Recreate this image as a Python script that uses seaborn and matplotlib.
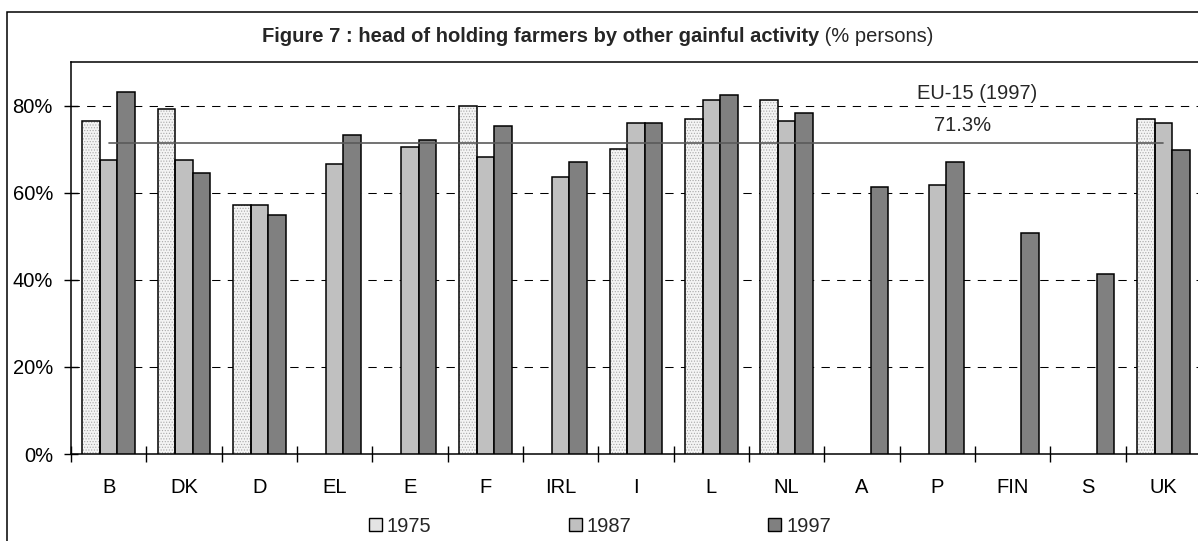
import numpy as np
import pandas as pd
import matplotlib
matplotlib.use("Agg")
import matplotlib.pyplot as plt
from matplotlib.patches import Patch, Rectangle
import seaborn as sns

# Share of holders with another gainful activity (% persons)
countries = ["B", "DK", "D", "EL", "E", "F", "IRL", "I", "L", "NL",
             "A", "P", "FIN", "S", "UK"]
nan = np.nan
share_1975 = [76.4, 79.1, 57.1, nan, nan, 80.0, nan, 70.0, 76.9, 81.2,
              nan, nan, nan, nan, 76.8]
share_1987 = [67.4, 67.4, 57.1, 66.6, 70.5, 68.1, 63.5, 76.1, 81.3, 76.4,
              nan, 61.8, nan, nan, 76.0]
share_1997 = [83.2, 64.6, 54.8, 73.3, 72.0, 75.4, 67.0, 76.1, 82.4, 78.4,
              61.4, 67.0, 50.8, 41.4, 69.7]
years = ["1975", "1987", "1997"]
eu15_1997 = 71.3
eu15_label = "EU-15 (1997)"
y_ticks = [0, 20, 40, 60, 80]
y_ticklabels = ["0%", "20%", "40%", "60%", "80%"]
title_bold = "Figure 7 : head of holding farmers by other gainful activity"
title_rest = " (% persons)"

colors = {"1975": "#f4f4f4", "1987": "#c0c0c0", "1997": "#808080"}

df = pd.DataFrame({
    "country": countries * 3,
    "year": [y for y in years for _ in countries],
    "share": share_1975 + share_1987 + share_1997,
}).dropna()

sns.set_style("white")
plt.rcParams["font.family"] = ["Liberation Sans", "DejaVu Sans"]
plt.rcParams["hatch.linewidth"] = 0.5

W, H = 1198, 541
fig = plt.figure(figsize=(W / 100, H / 100), dpi=100)
ax = fig.add_axes([71 / W, (H - 454) / H, 1130 / W, 392 / H])

sns.barplot(data=df, x="country", y="share", hue="year", order=countries,
            hue_order=years, palette=colors, width=0.7, edgecolor="black",
            linewidth=1.1, saturation=1, legend=False, ax=ax, zorder=3)

# Stippled fill for the 1975 bars: grey dots, black outline on top
for bar in ax.containers[0]:
    bar.set_edgecolor("#a8a8a8")
    bar.set_hatch("......")
    bar.set_linewidth(0)
    ax.add_patch(Rectangle(bar.get_xy(), bar.get_width(), bar.get_height(),
                           fill=False, edgecolor="black", linewidth=1.1,
                           zorder=4))

ax.set_xlim(-0.5, len(countries) - 0.5)
ax.set_ylim(0, 90)
ax.set_yticks(y_ticks)
ax.set_yticklabels(y_ticklabels)
ax.set_xlabel("")
ax.set_ylabel("")

# Dashed horizontal grid
for v in y_ticks[1:]:
    ax.axhline(v, color="black", lw=0.75, linestyle=(0, (8, 7)), zorder=1)

# Category separators as tick marks on the x axis
ax.set_xticks(np.arange(len(countries) + 1) - 0.5, minor=True)
ax.tick_params(axis="x", which="minor", direction="inout", length=11,
               width=1, color="black", bottom=True)
ax.tick_params(axis="x", which="major", length=0, pad=17, labelsize=14.5,
               labelcolor="black")
ax.tick_params(axis="y", direction="inout", length=10, width=1,
               color="black", left=True, pad=8, labelsize=14.5,
               labelcolor="black")

for side in ["left", "top", "bottom"]:
    ax.spines[side].set_visible(True)
    ax.spines[side].set_color("black")
    ax.spines[side].set_linewidth(1.1)
ax.spines["right"].set_visible(False)

# EU-15 average line
ax.plot([0, len(countries) - 1], [eu15_1997, eu15_1997], color="#5a5a5a",
        lw=1.2, zorder=5)
ax.text(11.53, 82.7, eu15_label, ha="center", va="center", fontsize=14.5,
        zorder=6)
ax.text(11.33, 75.4, f"{eu15_1997}%", ha="center", va="center",
        fontsize=14.5, zorder=6)

# Outer frame of the figure
fig.patches.append(Rectangle((7 / W, -0.2), 1.2, 0.2 + (H - 12) / H,
                             transform=fig.transFigure, fill=False,
                             edgecolor="black", linewidth=1.1))

# Title: bold part followed by regular part, centred as one line
fig.canvas.draw()
r = fig.canvas.get_renderer()
ty = (H - 37) / H
t1 = fig.text(0, ty, title_bold, weight="bold", fontsize=14.5, va="center")
t2 = fig.text(0, ty, title_rest, fontsize=14.5, va="center")
w1 = t1.get_window_extent(r).width
w2 = t2.get_window_extent(r).width
x0 = 598 - (w1 + w2) / 2
t1.set_x(x0 / W)
t2.set_x((x0 + w1) / W)

handles = [Patch(facecolor=colors[y] if y != "1975" else "#e4e4e4",
                 edgecolor="black", linewidth=1.0) for y in years]
fig.legend(handles, years, loc="center", bbox_to_anchor=(600 / W, (H - 526) / H),
           ncol=3, frameon=False, fontsize=14.5, handlelength=0.65,
           handleheight=0.65, handletextpad=0.25, columnspacing=6.8)

fig.savefig("out.png", dpi=100)
